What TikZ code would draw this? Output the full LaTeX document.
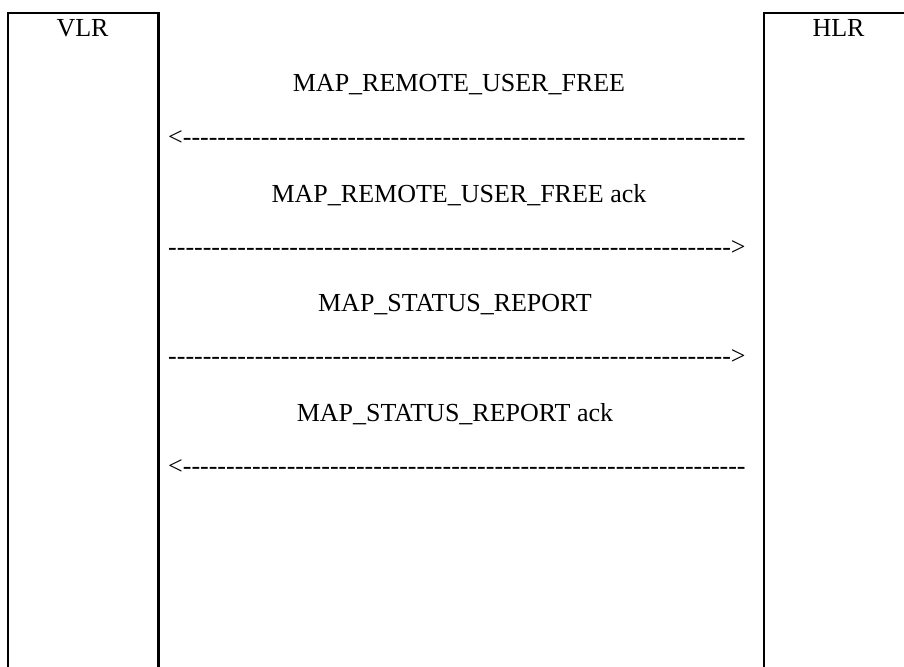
\documentclass[tikz,border=0pt]{standalone}
\usepackage{fontspec}
\setmainfont{Liberation Serif}
\newcommand\dashrun[1]{\foreach \i in {1,...,#1}{-\kern0pt}}
\begin{document}
\begin{tikzpicture}[x=1pt,y=-1pt,
  txt/.style={inner sep=0pt,font=\fontsize{26}{30}\selectfont},
  entity/.style={draw,line width=2.4pt,anchor=north west,minimum width=150.3pt,minimum height=720pt,inner sep=0pt},
  msg/.style={txt,anchor=base},
  arr/.style={txt,anchor=base west}]
\useasboundingbox (0,0) rectangle (904,666);
\clip (0,0) rectangle (904,666);
\node[entity] (vlrbox) at (7,12) {};
\node[entity] (hlrbox) at (763,12) {};
\node[msg] (vlr) at (82.5,37) {VLR};
\node[msg] (hlr) at (838.5,37) {HLR};
\node[msg] (m1) at (459,92) {MAP\_REMOTE\_USER\_FREE};
\node[arr] (a1) at (168,145) {<\dashrun{65}};
\node[msg] (m2) at (459,202) {MAP\_REMOTE\_USER\_FREE ack};
\node[arr] (a2) at (168,255) {\dashrun{65}>};
\node[msg] (m3) at (455,311) {MAP\_STATUS\_REPORT};
\node[arr] (a3) at (168,364) {\dashrun{65}>};
\node[msg] (m4) at (455,421) {MAP\_STATUS\_REPORT ack};
\node[arr] (a4) at (168,474) {<\dashrun{65}};
\end{tikzpicture}
\end{document}
